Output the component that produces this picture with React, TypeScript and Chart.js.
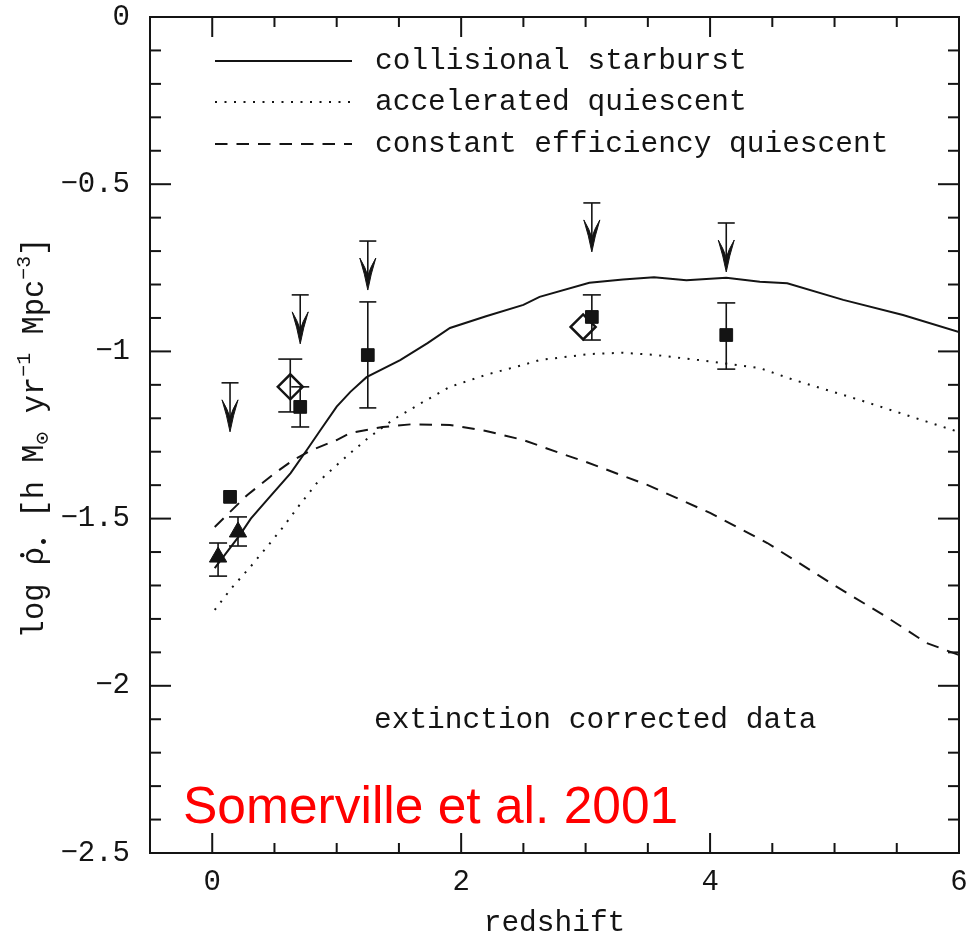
import React, { useEffect, useRef } from 'react';
import { Chart, registerables } from 'chart.js';

Chart.register(...registerables);

const MONO = '"Liberation Mono", "DejaVu Sans Mono", monospace';
const INK = '#141414';

// ---- model curves ----
const starburstX = [0.02, 0.22, 0.31, 0.45, 0.63, 0.76, 0.87, 1.0, 1.11, 1.24, 1.51, 1.73, 1.91, 2.2, 2.5, 2.63, 3.03, 3.3, 3.55, 3.81, 4.13, 4.4, 4.62, 5.07, 5.55, 6.0];
const starburstY = [-1.648, -1.55, -1.5, -1.44, -1.364, -1.295, -1.235, -1.165, -1.121, -1.077, -1.026, -0.975, -0.93, -0.895, -0.861, -0.837, -0.795, -0.785, -0.778, -0.787, -0.78, -0.792, -0.796, -0.846, -0.891, -0.942];

const accelX = [0.02, 0.15, 0.305, 0.45, 0.57, 0.7, 0.84, 1.0, 1.11, 1.25, 1.45, 1.7, 1.91, 2.2, 2.5, 2.63, 3.03, 3.3, 3.57, 4.0, 4.4, 4.67, 5.2, 5.74, 6.0];
const accelY = [-1.773, -1.71, -1.645, -1.58, -1.525, -1.46, -1.394, -1.34, -1.304, -1.26, -1.205, -1.15, -1.106, -1.07, -1.04, -1.026, -1.008, -1.004, -1.011, -1.03, -1.05, -1.085, -1.145, -1.21, -1.241];

const constEffX = [0.02, 0.28, 0.5, 0.65, 0.8, 1.0, 1.11, 1.37, 1.6, 1.91, 2.2, 2.5, 2.8, 3.0, 3.5, 4.0, 4.46, 5.0, 5.4, 5.74, 6.0];
const constEffY = [-1.525, -1.43, -1.365, -1.325, -1.295, -1.265, -1.244, -1.226, -1.218, -1.22, -1.238, -1.265, -1.305, -1.33, -1.4, -1.483, -1.573, -1.7, -1.79, -1.872, -1.908];

// ---- data points ----
const squareX = [0.143, 0.707, 1.25, 3.05, 4.13];
const squareY = [-1.435, -1.166, -1.011, -0.897, -0.951];
const squareHi = [null, -1.106, -0.852, -0.831, -0.855];
const squareLo = [null, -1.226, -1.169, -0.966, -1.053];

const triangleX = [0.047, 0.207];
const triangleY = [-1.615, -1.54];
const triangleHi = [-1.573, -1.495];
const triangleLo = [-1.672, -1.582];

const diamondX = [0.627, 2.98];
const diamondY = [-1.106, -0.927];
const diamondHi = [-1.023, null];
const diamondLo = [-1.181, null];

// upper limits (arrows)
const limitX = [0.143, 0.707, 1.25, 3.05, 4.13];
const limitY = [-1.094, -0.831, -0.67, -0.556, -0.616];

// ---- axes ----
const xTicks = [0, 2, 4, 6];
const yTicks = [0, -0.5, -1, -1.5, -2, -2.5];

const legendLabels = ['collisional starburst', 'accelerated quiescent', 'constant efficiency quiescent'];

const pts = (xs: number[], ys: number[]) => xs.map((x, i) => ({ x, y: ys[i] }));

function line(ctx: CanvasRenderingContext2D, x1: number, y1: number, x2: number, y2: number) {
  ctx.beginPath();
  ctx.moveTo(x1, y1);
  ctx.lineTo(x2, y2);
  ctx.stroke();
}

const deco = {
  id: 'deco',
  beforeDatasetsDraw(chart: any) {
    const ctx: CanvasRenderingContext2D = chart.ctx;
    const xs = chart.scales.x;
    const ys = chart.scales.y;
    ctx.save();
    ctx.strokeStyle = INK;
    ctx.fillStyle = INK;
    ctx.lineWidth = 1.6;
    const errs = (X: number[], HI: (number | null)[], LO: (number | null)[], cap: number[]) => {
      X.forEach((x, i) => {
        const hi = HI[i];
        const lo = LO[i];
        if (hi == null || lo == null) return;
        const px = xs.getPixelForValue(x);
        const ph = ys.getPixelForValue(hi);
        const pl = ys.getPixelForValue(lo);
        const c = cap[i] ?? 9;
        line(ctx, px, ph, px, pl);
        line(ctx, px - c, ph, px + c, ph);
        line(ctx, px - c, pl, px + c, pl);
      });
    };
    errs(squareX, squareHi, squareLo, [9, 9, 8.5, 9, 9]);
    errs(triangleX, triangleHi, triangleLo, [9, 9]);
    errs(diamondX, diamondHi, diamondLo, [12, 12]);

    // arrows
    limitX.forEach((x, i) => {
      const px = xs.getPixelForValue(x);
      const pt = ys.getPixelForValue(limitY[i]);
      const tip = pt + 49;
      ctx.lineWidth = 1.6;
      line(ctx, px - 8.5, pt, px + 8.5, pt);
      line(ctx, px, pt, px, tip - 8);
      ctx.beginPath();
      ctx.moveTo(px, tip);
      ctx.quadraticCurveTo(px - 3, tip - 16, px - 8, tip - 32);
      ctx.quadraticCurveTo(px - 2, tip - 22, px, tip - 14);
      ctx.quadraticCurveTo(px + 2, tip - 22, px + 8, tip - 32);
      ctx.quadraticCurveTo(px + 3, tip - 16, px, tip);
      ctx.closePath();
      ctx.fill();
      ctx.lineWidth = 1;
      ctx.stroke();
    });
    ctx.restore();
  },
  afterDraw(chart: any) {
    const ctx: CanvasRenderingContext2D = chart.ctx;
    const xs = chart.scales.x;
    const ys = chart.scales.y;
    const { left, right, top, bottom } = chart.chartArea;
    ctx.save();
    ctx.strokeStyle = INK;
    ctx.lineWidth = 2;
    ctx.setLineDash([]);
    ctx.strokeRect(left, top, right - left, bottom - top);
    // x ticks (inward, both sides)
    for (let k = -1; k <= 12; k++) {
      const v = k / 2;
      const major = k % 4 === 0;
      const L = major ? 20 : 10;
      const px = xs.getPixelForValue(v);
      line(ctx, px, bottom, px, bottom - L);
      line(ctx, px, top, px, top + L);
    }
    for (let k = 0; k <= 25; k++) {
      const v = -k / 10;
      const major = k % 5 === 0;
      const L = major ? 21 : 11;
      const py = ys.getPixelForValue(v);
      line(ctx, left, py, left + L, py);
      line(ctx, right, py, right - L, py);
    }

    // legend
    const ds = chart.data.datasets;
    const rows = [61, 102, 144];
    for (let i = 0; i < 3; i++) {
      const d = ds[i];
      ctx.strokeStyle = INK;
      ctx.lineWidth = d.borderWidth;
      ctx.setLineDash(d.borderDash || []);
      line(ctx, 215, rows[i], 352, rows[i]);
      ctx.setLineDash([]);
      ctx.fillStyle = INK;
      ctx.font = `29.5px ${MONO}`;
      ctx.textBaseline = 'alphabetic';
      ctx.textAlign = 'left';
      ctx.fillText(legendLabels[i], 375, rows[i] + 8);
    }

    // annotation
    ctx.fillText('extinction corrected data', 374, 728);

    // x title
    ctx.textAlign = 'center';
    ctx.fillText('redshift', (left + right) / 2, 931);

    // y title (rich text rotated)
    const size = 30.5;
    const segs: { t: string; s: number; dy: number; dot?: boolean }[] = [
      { t: 'log ', s: 1, dy: 0 },
      { t: 'ρ', s: 1, dy: 0, dot: true },
      { t: '•', s: 0.6, dy: 0.22 },
      { t: ' [h M', s: 1, dy: 0 },
      { t: '⊙', s: 0.7, dy: 0.2 },
      { t: ' yr', s: 1, dy: 0 },
      { t: '−1', s: 0.65, dy: -0.42 },
      { t: ' Mpc', s: 1, dy: 0 },
      { t: '−3', s: 0.65, dy: -0.42 },
      { t: ']', s: 1, dy: 0 },
    ];
    ctx.save();
    ctx.translate(43, 438);
    ctx.rotate(-Math.PI / 2);
    ctx.textAlign = 'left';
    let total = 0;
    const ws = segs.map((sg) => {
      ctx.font = `${size * sg.s}px ${MONO}`;
      const w = ctx.measureText(sg.t).width;
      total += w;
      return w;
    });
    let x = -total / 2;
    segs.forEach((sg, i) => {
      ctx.font = `${size * sg.s}px ${MONO}`;
      ctx.fillText(sg.t, x, sg.dy * size);
      if (sg.dot) {
        ctx.beginPath();
        ctx.arc(x + ws[i] * 0.55, -size * 0.68, 2.2, 0, Math.PI * 2);
        ctx.fill();
      }
      x += ws[i];
    });
    ctx.restore();

    // red credit
    ctx.fillStyle = '#ff0000';
    ctx.textAlign = 'left';
    ctx.font = '51.5px "Liberation Sans", Arial, sans-serif';
    ctx.fillText('Somerville et al. 2001', 183, 823);
    ctx.restore();
  },
};

export default function App() {
  const ref = useRef<HTMLCanvasElement>(null);
  useEffect(() => {
    document.body.style.margin = '0';
    const canvas = ref.current!;
    const tickFont = { family: MONO, size: 29, lineHeight: 1 };
    const chart = new Chart(canvas, {
      type: 'scatter',
      data: {
        datasets: [
          {
            label: legendLabels[0],
            data: pts(starburstX, starburstY),
            showLine: true,
            borderColor: INK,
            borderWidth: 2,
            pointRadius: 0,
            borderDash: [],
          } as any,
          {
            label: legendLabels[1],
            data: pts(accelX, accelY),
            showLine: true,
            borderColor: INK,
            borderWidth: 2,
            pointRadius: 0,
            borderDash: [2, 7.5],
          },
          {
            label: legendLabels[2],
            data: pts(constEffX, constEffY),
            showLine: true,
            borderColor: INK,
            borderWidth: 2,
            pointRadius: 0,
            borderDash: [12.5, 9],
          },
          {
            label: 'squares',
            data: pts(squareX, squareY),
            pointStyle: 'rect',
            pointRadius: 9,
            backgroundColor: INK,
            borderColor: INK,
            borderWidth: 1,
          },
          {
            label: 'triangles',
            data: pts(triangleX, triangleY),
            pointStyle: 'triangle',
            pointRadius: 10,
            backgroundColor: INK,
            borderColor: INK,
            borderWidth: 1,
          },
          {
            label: 'diamonds',
            data: pts(diamondX, diamondY),
            pointStyle: 'rectRot',
            pointRadius: 12.5,
            backgroundColor: 'rgba(0,0,0,0)',
            borderColor: INK,
            borderWidth: 2.5,
          },
        ],
      },
      options: {
        animation: false,
        responsive: false,
        devicePixelRatio: 1,
        events: [],
        layout: { padding: { left: 0, right: 17, top: 17, bottom: 0 } },
        plugins: { legend: { display: false }, tooltip: { enabled: false } },
        scales: {
          x: {
            type: 'linear',
            min: -0.5,
            max: 6,
            grid: { display: false, drawTicks: false },
            border: { display: false },
            afterBuildTicks: (s: any) => {
              s.ticks = xTicks.map((v) => ({ value: v }));
            },
            afterFit: (s: any) => {
              s.height = 83;
              s.paddingLeft = 0;
              s.paddingRight = 0;
              s.paddingTop = 0;
              s.paddingBottom = 0;
            },
            ticks: {
              font: tickFont,
              color: INK,
              padding: 15,
              maxRotation: 0,
              autoSkip: false,
              callback: (v: any) => String(v),
            },
          },
          y: {
            type: 'linear',
            min: -2.5,
            max: 0,
            grid: { display: false, drawTicks: false },
            border: { display: false },
            afterBuildTicks: (s: any) => {
              s.ticks = yTicks.map((v) => ({ value: v }));
            },
            afterFit: (s: any) => {
              s.width = 150;
              s.paddingLeft = 0;
              s.paddingRight = 0;
              s.paddingTop = 0;
              s.paddingBottom = 0;
            },
            ticks: {
              font: tickFont,
              color: INK,
              padding: 20,
              autoSkip: false,
              callback: (v: any) => (v === 0 ? '0' : '−' + String(Math.abs(v))),
            },
          },
        },
      },
      plugins: [deco],
    });
    return () => chart.destroy();
  }, []);
  return (
    <canvas
      ref={ref}
      width={976}
      height={936}
      style={{ display: 'block', width: '976px', height: '936px' }}
    />
  );
}
